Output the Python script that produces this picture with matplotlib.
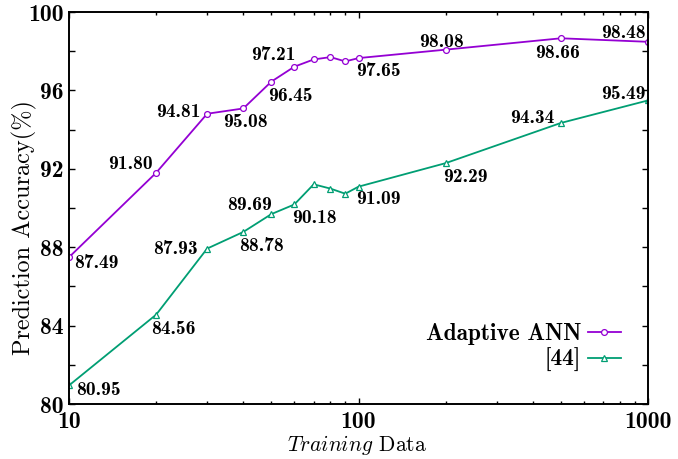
import matplotlib
matplotlib.use("Agg")
import matplotlib.pyplot as plt
from matplotlib.ticker import FixedLocator, NullFormatter

plt.rcParams['mathtext.fontset'] = 'cm'

# ---------- data ----------
train_size = [10, 20, 30, 40, 50, 60, 70, 80, 90, 100, 200, 500, 1000]
ann_acc = [87.49, 91.80, 94.81, 95.08, 96.45, 97.21, 97.58, 97.70, 97.48, 97.65, 98.08, 98.66, 98.48]
ref44_acc = [80.95, 84.56, 87.93, 88.78, 89.69, 90.18, 91.21, 90.99, 90.73, 91.09, 92.29, 94.34, 95.49]

# value labels: x -> (dx, dy, ha), offsets in pixels from the point
ann_labels = {10: (5, -6, 'left'), 20: (-3, 9, 'right'), 30: (-7, 2, 'right'),
              40: (2, -14, 'center'), 50: (-3, -14, 'left'), 60: (1, 12, 'right'),
              100: (-2, -13, 'left'), 200: (-4, 8, 'center'), 500: (-3, -15, 'center'),
              1000: (-2, 9, 'right')}
ref_labels = {10: (7, -5, 'left'), 20: (-5, -14, 'left'), 30: (-9, 0, 'right'),
              40: (-4, -14, 'left'), 50: (1, 9, 'right'), 60: (-2, -14, 'left'),
              100: (-2, -12, 'left'), 200: (-3, -14, 'left'), 500: (-7, 5, 'right'),
              1000: (-2, 6, 'right')}

purple = '#9400d3'
green = '#009e73'

fig = plt.figure(figsize=(6.78, 4.59), dpi=100)
ax = fig.add_axes([0.1018, 0.1198, 0.854, 0.854])

ax.plot(train_size, ann_acc, color=purple, lw=1.3, marker='o', ms=4.2,
        mfc='white', mec=purple, mew=0.9, label='Adaptive ANN')
ax.plot(train_size, ref44_acc, color=green, lw=1.3, marker='^', ms=4.0,
        mfc='white', mec=green, mew=0.9, label='[44]')

bold_cm = dict(family='cmb10', fontsize=14)
for x, y in zip(train_size, ann_acc):
    if x in ann_labels:
        dx, dy, ha = ann_labels[x]
        ax.annotate(f'{y:.2f}', (x, y), xytext=(dx, dy), textcoords='offset pixels',
                    ha=ha, va='center', **bold_cm)
for x, y in zip(train_size, ref44_acc):
    if x in ref_labels:
        dx, dy, ha = ref_labels[x]
        ax.annotate(f'{y:.2f}', (x, y), xytext=(dx, dy), textcoords='offset pixels',
                    ha=ha, va='center', **bold_cm)

ax.set_xscale('log')
ax.set_xlim(10, 1000)
ax.set_ylim(80, 100)
ax.set_xticks([10, 100, 1000])
ax.set_xticklabels(['10', '100', '1000'])
ax.xaxis.set_minor_locator(FixedLocator([20, 30, 40, 50, 60, 70, 80, 90,
                                         200, 300, 400, 500, 600, 700, 800, 900]))
ax.xaxis.set_minor_formatter(NullFormatter())
ax.set_yticks([80, 84, 88, 92, 96, 100])
ax.yaxis.set_minor_locator(FixedLocator([82, 86, 90, 94, 98]))

ax.tick_params(which='both', direction='in', top=True, right=True, width=1.0)
ax.tick_params(axis='y', which='both', length=4)
ax.tick_params(axis='x', which='major', length=4)
ax.tick_params(axis='x', which='minor', length=2.5)
ax.tick_params(axis='y', which='major', labelsize=17, pad=4)
ax.tick_params(axis='x', which='major', labelsize=17, pad=5)
for lab in ax.get_xticklabels() + ax.get_yticklabels():
    lab.set_family('cmb10')
for sp in ax.spines.values():
    sp.set_linewidth(1.4)

ax.set_ylabel('Prediction Accuracy(%)', family='cmr10', fontsize=17.5)
ax.yaxis.set_label_coords(-0.056, 0.45)
ax.set_xlabel(r'$\mathit{Training}$ Data', family='cmr10', fontsize=15.5)
ax.xaxis.set_label_coords(0.497, -0.075)

ax.legend(loc='center right', bbox_to_anchor=(0.953, 0.144), frameon=False,
          markerfirst=False, prop=dict(family='cmb10', size=16.8),
          handlelength=1.4, handletextpad=0.3, labelspacing=0.15,
          borderaxespad=0, borderpad=0)

fig.savefig('out.png', dpi=100)
